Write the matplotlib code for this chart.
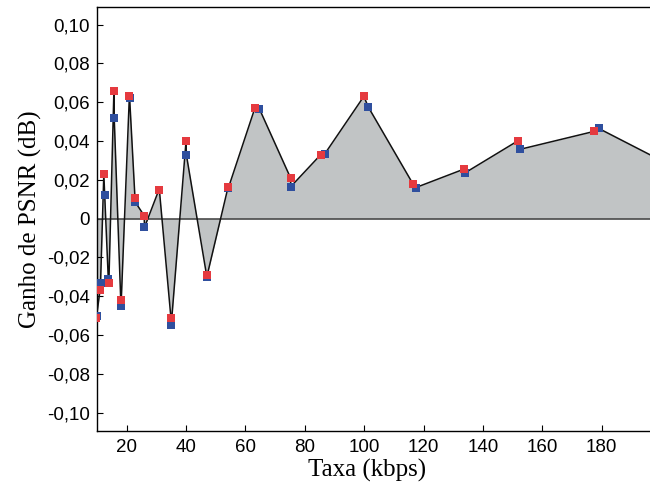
import matplotlib
matplotlib.use('Agg')
import matplotlib.pyplot as plt
import matplotlib.ticker as ticker
import numpy as np

# Data (rate in kbps, PSNR gain in dB)
redRate = [9.8, 11.0, 12.3, 14.0, 15.7, 18.0, 20.9, 22.8, 25.9, 30.9, 34.9, 40.0,
           46.9, 54.2, 63.2, 75.2, 85.4, 99.9, 116.4, 133.6, 151.7, 177.6, 200.0]
redGain = [-0.051, -0.037, 0.023, -0.033, 0.066, -0.042, 0.063, 0.0105, 0.0015, 0.015, -0.051, 0.040,
           -0.029, 0.0165, 0.057, 0.021, 0.033, 0.063, 0.018, 0.0255, 0.040, 0.045, 0.030]
blueRate = [9.9, 11.2, 12.6, 13.8, 15.8, 18.1, 21.0, 22.9, 26.0, 31.0, 35.0, 40.1,
            47.0, 54.3, 64.7, 75.3, 86.8, 101.4, 117.4, 133.9, 152.5, 179.0, 201.0]
blueGain = [-0.050, -0.033, 0.012, -0.031, 0.052, -0.045, 0.062, 0.0085, -0.0045, 0.015, -0.055, 0.033,
            -0.030, 0.016, 0.0566, 0.0165, 0.0335, 0.0575, 0.016, 0.0235, 0.0357, 0.0465, 0.030]
yTicks = [-0.10, -0.08, -0.06, -0.04, -0.02, 0, 0.02, 0.04, 0.06, 0.08, 0.10]
xTicks = [20, 40, 60, 80, 100, 120, 140, 160, 180]

# Merged curve: both series together, ordered by rate
allRate = np.array(redRate + blueRate)
allGain = np.array(redGain + blueGain)
order = np.argsort(allRate, kind='stable')
lineRate = allRate[order]
lineGain = allGain[order]

fig = plt.figure(figsize=(6.5, 4.97), dpi=100)
ax = fig.add_axes([96.7 / 650, 1 - 430.7 / 497, (650 - 96.7) / 650, (430.7 - 7.3) / 497])

tickFont = 'Liberation Sans'
labelFont = 'Liberation Serif'

ax.fill_between(lineRate, lineGain, 0, color='#c1c4c5', lw=0, zorder=1)
ax.axhline(0, color='#4a4a4a', lw=1.2, zorder=2)
ax.plot(lineRate, lineGain, color='#111111', lw=1.1, zorder=3)
ax.plot(blueRate, blueGain, 's', color='#2f4f9e', ms=5.6, mew=0, zorder=4)
ax.plot(redRate, redGain, 's', color='#e53a3f', ms=5.6, mew=0, zorder=5)

ax.set_xlim(9.9, 196.3)
ax.set_ylim(-0.1093, 0.1089)
ax.set_xticks(xTicks)
ax.set_yticks(yTicks)
ax.yaxis.set_major_formatter(ticker.FuncFormatter(
    lambda v, p: '0' if abs(v) < 1e-9 else ('%.2f' % v).replace('.', ',')))

ax.tick_params(axis='both', direction='in', length=4.5, width=0.8, labelsize=13.5)
ax.tick_params(axis='x', pad=6)
ax.tick_params(axis='y', pad=5)
for lab in ax.get_xticklabels() + ax.get_yticklabels():
    lab.set_fontfamily(tickFont)
ax.spines['right'].set_visible(False)
for s in ['left', 'bottom', 'top']:
    ax.spines[s].set_linewidth(1.0)

ax.set_xlabel('Taxa (kbps)', fontsize=18, family=labelFont)
ax.set_ylabel('Ganho de PSNR (dB)', fontsize=18, family=labelFont)
ax.xaxis.set_label_coords(0.4885, -0.066)
ax.yaxis.set_label_coords(-0.099, 0.5)

fig.savefig('out.png', dpi=100)
